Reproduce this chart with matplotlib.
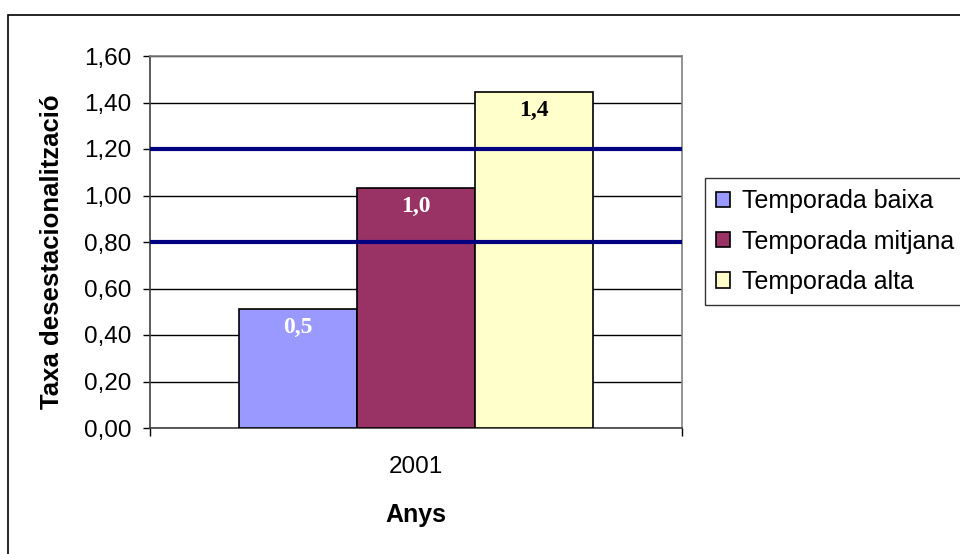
import matplotlib
matplotlib.use("Agg")
import matplotlib.pyplot as plt
from matplotlib.patches import Rectangle, Patch

plt.rcParams['font.family'] = ['Liberation Sans', 'DejaVu Sans']

series = ["Temporada baixa", "Temporada mitjana", "Temporada alta"]
values = [0.512, 1.032, 1.445]
value_labels = ["0,5", "1,0", "1,4"]
colors = ["#9999FF", "#993366", "#FFFFCC"]
label_colors = ["white", "white", "black"]
ref_lines = [0.8, 1.2]
category = "2001"
yticks = [0.0, 0.2, 0.4, 0.6, 0.8, 1.0, 1.2, 1.4, 1.6]

fig = plt.figure(figsize=(9.6, 5.54), dpi=100)
ax = fig.add_axes([150/960, 1-428/554, (682-150)/960, (428-56)/554])

bw = 0.222
offsets = [-bw, 0.0, bw]
for off, v, c, lab, lc in zip(offsets, values, colors, value_labels, label_colors):
    ax.bar(off, v, width=bw, color=c, edgecolor="black", linewidth=1.2, zorder=3)
    ax.annotate(lab, (off, v), xytext=(0, -17.5), textcoords="offset points",
                ha="center", va="baseline", color=lc, fontsize=17,
                fontweight="bold", family="Liberation Serif", zorder=4)

for r in ref_lines:
    ax.axhline(r, color="#000080", linewidth=3, zorder=5)

ax.set_xlim(-0.5, 0.5)
ax.set_ylim(0, 1.6)
ax.set_yticks(yticks)
ax.set_yticklabels([f"{t:.2f}".replace(".", ",") for t in yticks])
ax.yaxis.grid(True, color="black", linewidth=1, zorder=0)
ax.set_axisbelow(True)
ax.tick_params(axis="y", direction="out", length=5, width=1, pad=8.5, labelsize=17.5)

ax.set_xticks([-0.5, 0.5])
ax.set_xticklabels(["", ""])
ax.set_xticks([0], minor=True)
ax.set_xticklabels([category], minor=True)
ax.tick_params(axis="x", which="major", direction="out", length=6, width=1)
ax.tick_params(axis="x", which="minor", length=0, pad=20, labelsize=17.5)

for s in ["top", "right"]:
    ax.spines[s].set_color("#808080")
    ax.spines[s].set_linewidth(1.2)
for s in ["left", "bottom"]:
    ax.spines[s].set_color("#404040")
    ax.spines[s].set_linewidth(1.2)

fig.text(52/960, 1-251.5/554, "Taxa desestacionalització", rotation=90,
         ha="center", va="center", fontsize=18.5, fontweight="bold")
fig.text(416/960, 1-515/554, "Anys", ha="center", va="center",
         fontsize=18, fontweight="bold")

handles = [Patch(facecolor=c, edgecolor="black", linewidth=1.2) for c in colors]
leg = fig.legend(handles, series, loc="upper left",
                 bbox_to_anchor=(705/960, 1-178/554), fontsize=18,
                 frameon=True, fancybox=False, edgecolor="black",
                 handlelength=0.56, handleheight=0.56, handletextpad=0.45,
                 labelspacing=0.65, borderpad=0.45, borderaxespad=0)
leg.get_frame().set_linewidth(1)

fig.patches.append(Rectangle((8/960, -0.05), 1.1, 1-15/554+0.05,
                             transform=fig.transFigure, fill=False,
                             edgecolor="black", linewidth=1.2))

fig.savefig("out.png", dpi=100)
